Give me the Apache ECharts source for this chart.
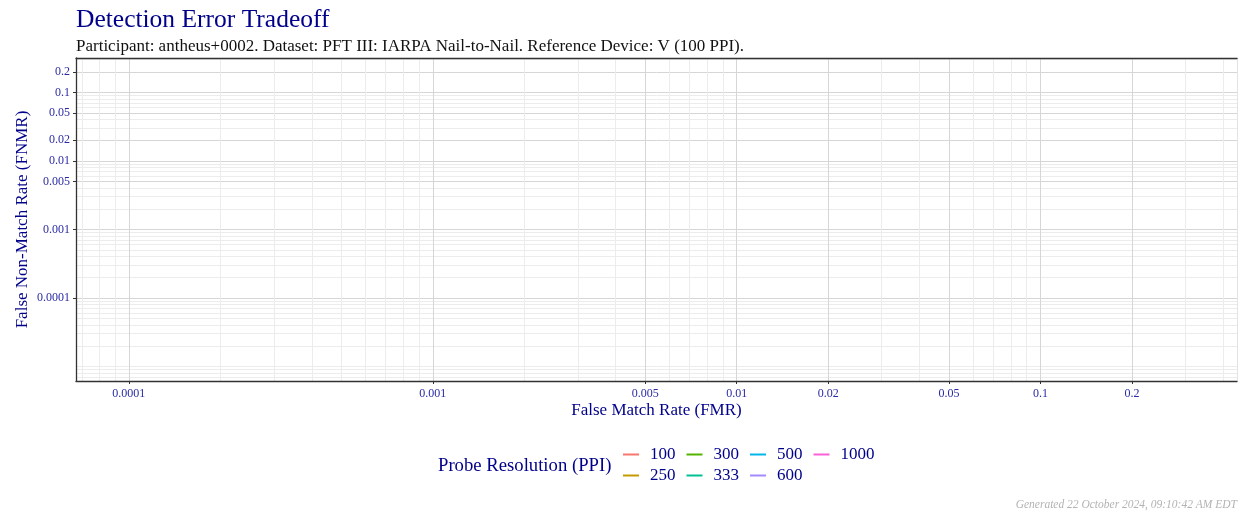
<!DOCTYPE html>
<html>
<head>
<meta charset="utf-8">
<script src="https://cdn.jsdelivr.net/npm/echarts@6/dist/echarts.min.js"></script>
<style>
  html, body { margin: 0; padding: 0; background: #fff; }
  #chart { width: 1238px; height: 512px; }
</style>
</head>
<body>
<div id="chart"></div>
<script>
// 探针分辨率（图例）
const probeResolutions = ['100', '250', '300', '333', '500', '600', '1000'];
const seriesColors = ['#F8766D', '#C49A00', '#53B400', '#00C094', '#00B6EB', '#A58AFF', '#FB61D7'];
// 各系列数据（原图为空）
const seriesData = [[], [], [], [], [], [], []];

// 坐标轴范围
const fmrMin = 6.7e-5, fmrMax = 0.443;
const fnmrMin = 6.12e-6, fnmrMax = 0.318;

// 刻度标签（主网格线）
const fmrTicks = [0.0001, 0.001, 0.005, 0.01, 0.02, 0.05, 0.1, 0.2];
const fnmrTicks = [0.0001, 0.001, 0.005, 0.01, 0.02, 0.05, 0.1, 0.2];
// 次网格线
const fmrMinorTicks = [
  0.00007, 0.00008, 0.00009,
  0.0002, 0.0003, 0.0004, 0.0005, 0.0006, 0.0007, 0.0008, 0.0009,
  0.002, 0.003, 0.004, 0.006, 0.007, 0.008, 0.009,
  0.03, 0.04, 0.06, 0.07, 0.08, 0.09,
  0.3, 0.4,
];
const fnmrMinorTicks = [
  0.000007, 0.000008, 0.000009,
  0.00001, 0.00002, 0.00003, 0.00004, 0.00005, 0.00006, 0.00007, 0.00008, 0.00009,
  0.0002, 0.0003, 0.0004, 0.0005, 0.0006, 0.0007, 0.0008, 0.0009,
  0.002, 0.003, 0.004, 0.006, 0.007, 0.008, 0.009,
  0.03, 0.04, 0.06, 0.07, 0.08, 0.09,
  0.3,
];

const FONT = 'Liberation Serif';
const BLUE = '#00008B';
const TICK_BLUE = '#2a2aa6';

const fmt = (v) => String(parseFloat(Number(v).toPrecision(6)));

const myChart = echarts.init(document.getElementById('chart'));

const series = probeResolutions.map((name, i) => ({
  name: name,
  type: 'line',
  data: seriesData[i],
  xAxisIndex: 0,
  yAxisIndex: 0,
  showSymbol: false,
  lineStyle: { width: 1.5 },
}));

const legendBase = {
  orient: 'horizontal',
  icon: 'rect',
  itemWidth: 16,
  itemHeight: 2,
  itemGap: 11,
  padding: 0,
  selectedMode: false,
  textStyle: {
    fontFamily: FONT,
    fontSize: 17,
    color: BLUE,
    width: 27,
    padding: [0, 0, 0, 6],
  },
};

myChart.setOption({
  animation: false,
  color: seriesColors,
  title: [
    {
      text: 'Detection Error Tradeoff',
      subtext: 'Participant: antheus+0002. Dataset: PFT III: IARPA Nail-to-Nail. Reference Device: V (100 PPI).',
      left: 71,
      top: 2,
      itemGap: 5,
      textStyle: { fontFamily: FONT, fontSize: 25.5, fontWeight: 'normal', color: BLUE },
      subtextStyle: { fontFamily: FONT, fontSize: 17, color: '#111' },
    },
    {
      text: 'Probe Resolution (PPI)',
      left: 433,
      top: 452,
      textStyle: { fontFamily: FONT, fontSize: 18.7, fontWeight: 'normal', color: BLUE },
    },
    {
      text: 'Generated 22 October 2024, 09:10:42 AM EDT',
      right: 1,
      top: 499,
      padding: 0,
      textStyle: { fontFamily: FONT, fontSize: 11.5, fontStyle: 'italic', fontWeight: 'normal', color: '#b3b3b3' },
    },
  ],
  legend: [
    Object.assign({}, legendBase, { left: 623, top: 446, data: ['100', '300', '500', '1000'] }),
    Object.assign({}, legendBase, { left: 623, top: 467, data: ['250', '333', '600'] }),
  ],
  grid: { left: 76, right: 1, top: 58, bottom: 131, containLabel: false },
  xAxis: [
    {
      type: 'log',
      min: fmrMin,
      max: fmrMax,
      position: 'bottom',
      name: 'False Match Rate (FMR)',
      nameLocation: 'middle',
      nameGap: 21,
      nameMoveOverlap: false,
      nameTextStyle: { fontFamily: FONT, fontSize: 17, color: BLUE, verticalAlign: 'top' },
      axisLine: { show: true, onZero: false, lineStyle: { color: '#333', width: 1.3 } },
      axisTick: { show: true, length: 3, customValues: fmrTicks, lineStyle: { color: '#333' } },
      axisLabel: { customValues: fmrTicks, margin: 7, fontFamily: FONT, fontSize: 12, color: TICK_BLUE, formatter: fmt },
      splitLine: { show: true, lineStyle: { color: '#d6d6d6', width: 1 } },
      minorTick: { show: false },
      minorSplitLine: { show: false },
    },
    {
      type: 'log',
      min: fmrMin,
      max: fmrMax,
      position: 'top',
      axisLine: { show: true, onZero: false, lineStyle: { color: '#333', width: 1.3 } },
      axisTick: { show: false, customValues: fmrMinorTicks },
      axisLabel: { show: false },
      splitLine: { show: true, lineStyle: { color: '#ececec', width: 1 } },
    },
  ],
  yAxis: [
    {
      type: 'log',
      min: fnmrMin,
      max: fnmrMax,
      position: 'left',
      name: 'False Non-Match Rate (FNMR)',
      nameLocation: 'middle',
      nameGap: 45,
      nameMoveOverlap: false,
      nameRotate: 90,
      nameTextStyle: { fontFamily: FONT, fontSize: 17, color: BLUE },
      axisLine: { show: true, onZero: false, lineStyle: { color: '#333', width: 1.3 } },
      axisTick: { show: true, length: 3, customValues: fnmrTicks, lineStyle: { color: '#333' } },
      axisLabel: { customValues: fnmrTicks, margin: 6, fontFamily: FONT, fontSize: 12, color: TICK_BLUE, formatter: fmt },
      splitLine: { show: true, lineStyle: { color: '#d6d6d6', width: 1 } },
    },
    {
      type: 'log',
      min: fnmrMin,
      max: fnmrMax,
      position: 'right',
      axisLine: { show: true, onZero: false, lineStyle: { color: '#e3e3e3', width: 1 } },
      axisTick: { show: false, customValues: fnmrMinorTicks },
      axisLabel: { show: false },
      splitLine: { show: true, lineStyle: { color: '#ececec', width: 1 } },
    },
  ],
  series: series,
});

window.addEventListener('resize', () => myChart.resize());
</script>
</body>
</html>
